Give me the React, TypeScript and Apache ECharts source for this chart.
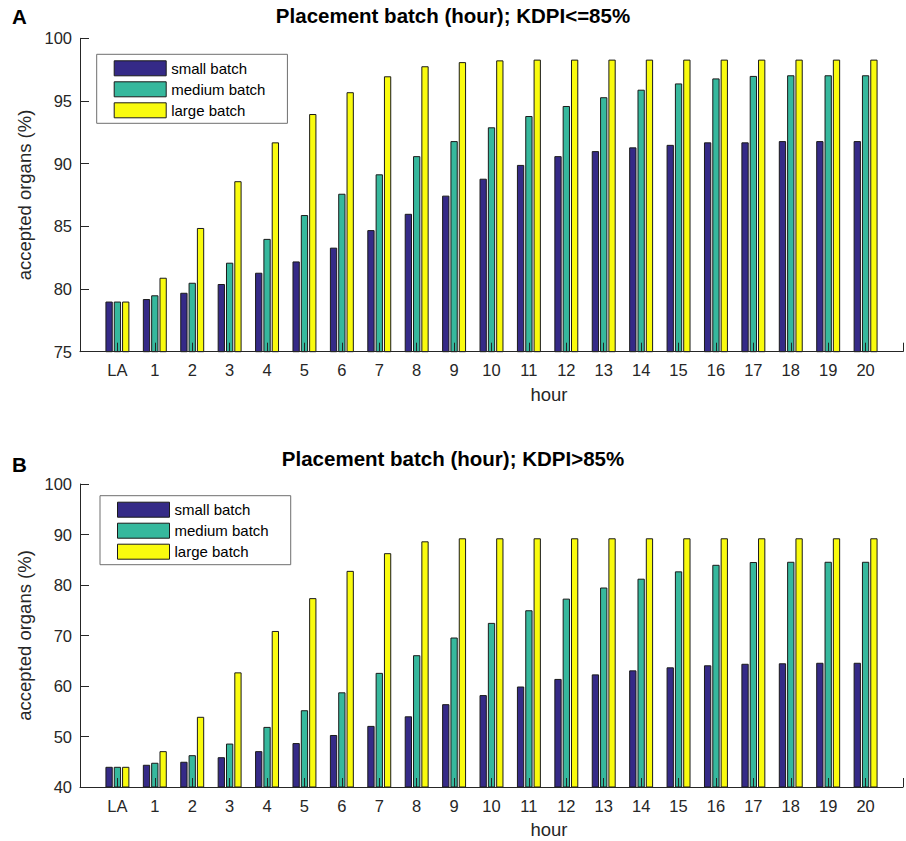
import React, { useEffect, useRef } from "react";
import * as echarts from "echarts";

const hours = ["LA", "1", "2", "3", "4", "5", "6", "7", "8", "9", "10", "11", "12", "13", "14", "15", "16", "17", "18", "19", "20"];
const seriesNames = ["small batch", "medium batch", "large batch"];

// Panel A: KDPI<=85%
const smallA = [79.0, 79.2, 79.7, 80.4, 81.3, 82.2, 83.3, 84.7, 86.0, 87.45, 88.8, 89.9, 90.6, 91.0, 91.3, 91.5, 91.7, 91.7, 91.8, 91.8, 91.8];
const mediumA = [79.0, 79.5, 80.5, 82.1, 84.0, 85.9, 87.6, 89.15, 90.6, 91.8, 92.9, 93.8, 94.6, 95.3, 95.9, 96.4, 96.8, 97.0, 97.05, 97.05, 97.05];
const largeA = [79.0, 80.9, 84.87, 88.6, 91.7, 93.96, 95.7, 96.97, 97.77, 98.1, 98.24, 98.3, 98.3, 98.3, 98.3, 98.3, 98.3, 98.3, 98.3, 98.3, 98.3];

// Panel B: KDPI>85%
const smallB = [44.0, 44.4, 45.0, 45.9, 47.1, 48.7, 50.3, 52.1, 54.0, 56.4, 58.2, 59.9, 61.4, 62.3, 63.1, 63.7, 64.1, 64.4, 64.5, 64.6, 64.6];
const mediumB = [44.0, 44.8, 46.3, 48.6, 51.9, 55.2, 58.75, 62.6, 66.1, 69.6, 72.5, 75.0, 77.3, 79.5, 81.25, 82.7, 84.0, 84.55, 84.6, 84.6, 84.6];
const largeB = [44.0, 47.1, 53.9, 62.7, 70.9, 77.4, 82.8, 86.3, 88.65, 89.25, 89.25, 89.25, 89.25, 89.25, 89.25, 89.25, 89.25, 89.25, 89.25, 89.25, 89.25];

const titleA = "Placement batch (hour); KDPI<=85%";
const titleB = "Placement batch (hour); KDPI>85%";
const yName = "accepted organs (%)";
const xName = "hour";

const colors = ["#352A87", "#36B89D", "#F9FB0E"];
const FONT = "'Liberation Sans', Arial, Helvetica, sans-serif";
const AX = "#262626";

function toPairs(vals: number[]) {
  return vals.map((v, i) => [i, v]);
}

export default function App() {
  const ref = useRef<HTMLDivElement>(null);
  useEffect(() => {
    if (!ref.current) return;
    const chart = echarts.init(ref.current, undefined, { renderer: "svg" });

    const xAxisBase = (gridIndex: number) => ({
      type: "value",
      gridIndex,
      min: -1,
      max: 21,
      interval: 1,
      z: 5,
      name: xName,
      nameLocation: "middle",
      nameGap: 33,
      nameTextStyle: { fontFamily: FONT, fontSize: 18.5, color: AX, padding: [0, 0, 0, 115] },
      axisLine: { show: true, onZero: false, lineStyle: { color: AX, width: 1 } },
      axisTick: { show: true, inside: true, length: 9, lineStyle: { color: AX, width: 1 } },
      axisLabel: {
        fontFamily: FONT,
        fontSize: 16.5,
        color: AX,
        margin: 10,
        showMinLabel: true,
        showMaxLabel: true,
        formatter: (v: number) => {
          const i = Math.round(v);
          return i >= 0 && i < hours.length ? hours[i] : "";
        },
      },
      splitLine: { show: false },
    });

    const yAxisBase = (gridIndex: number, min: number, max: number, interval: number) => ({
      type: "value",
      gridIndex,
      min,
      max,
      interval,
      z: 5,
      name: yName,
      nameLocation: "middle",
      nameGap: 42,
      nameTextStyle: { fontFamily: FONT, fontSize: 18.5, color: AX },
      axisLine: { show: true, onZero: false, lineStyle: { color: AX, width: 1 } },
      axisTick: { show: true, inside: true, length: 9, lineStyle: { color: AX, width: 1 } },
      axisLabel: { fontFamily: FONT, fontSize: 16.5, color: AX, margin: 8 },
      splitLine: { show: false },
    });

    const mkSeries = (name: string, data: number[], idx: number, color: string) => ({
      type: "bar",
      name,
      xAxisIndex: idx,
      yAxisIndex: idx,
      data: toPairs(data),
      barWidth: 7.3,
      barGap: "14%",
      itemStyle: { color, borderColor: "#1a1a1a", borderWidth: 1 },
      emphasis: { disabled: true },
    });

    const legendBase = (left: number, top: number) => ({
      orient: "vertical",
      left,
      top,
      itemWidth: 52,
      itemHeight: 15,
      itemGap: 5,
      padding: [6, 22, 5, 17],
      borderColor: "#6e6e6e",
      borderWidth: 1,
      backgroundColor: "#fff",
      icon: "rect",
      data: seriesNames,
      selectedMode: false,
      itemStyle: { borderColor: "#1a1a1a", borderWidth: 1 },
      textStyle: { fontFamily: FONT, fontSize: 15, color: "#000", padding: [0, 0, 0, 0] },
    });

    chart.setOption({
      animation: false,
      backgroundColor: "#fff",
      textStyle: { fontFamily: FONT },
      title: [
        { text: titleA, left: "center", top: 5, padding: 0, textStyle: { fontFamily: FONT, fontSize: 20.5, fontWeight: "bold", color: "#000" } },
        { text: titleB, left: "center", top: 448, padding: 0, textStyle: { fontFamily: FONT, fontSize: 20.5, fontWeight: "bold", color: "#000" } },
      ],
      grid: [
        { left: 80, width: 827, top: 38.3, height: 313.4, containLabel: false },
        { left: 80, width: 827, top: 484, height: 303, containLabel: false },
      ],
      xAxis: [xAxisBase(0), xAxisBase(1)],
      yAxis: [yAxisBase(0, 75, 100, 5), yAxisBase(1, 40, 100, 10)],
      legend: [legendBase(96.7, 54.3), legendBase(100, 495.7)],
      series: [
        mkSeries(seriesNames[0], smallA, 0, colors[0]),
        mkSeries(seriesNames[1], mediumA, 0, colors[1]),
        mkSeries(seriesNames[2], largeA, 0, colors[2]),
        mkSeries(seriesNames[0], smallB, 1, colors[0]),
        mkSeries(seriesNames[1], mediumB, 1, colors[1]),
        mkSeries(seriesNames[2], largeB, 1, colors[2]),
      ],
      graphic: [
        { type: "text", left: 12, top: 6, style: { text: "A", fontFamily: FONT, fontSize: 20.5, fontWeight: "bold", fill: "#000" } },
        { type: "text", left: 12, top: 454, style: { text: "B", fontFamily: FONT, fontSize: 20.5, fontWeight: "bold", fill: "#000" } },
      ],
    });
    return () => chart.dispose();
  }, []);
  return <div ref={ref} style={{ position: "absolute", left: 0, top: 0, width: 906, height: 841 }} />;
}
